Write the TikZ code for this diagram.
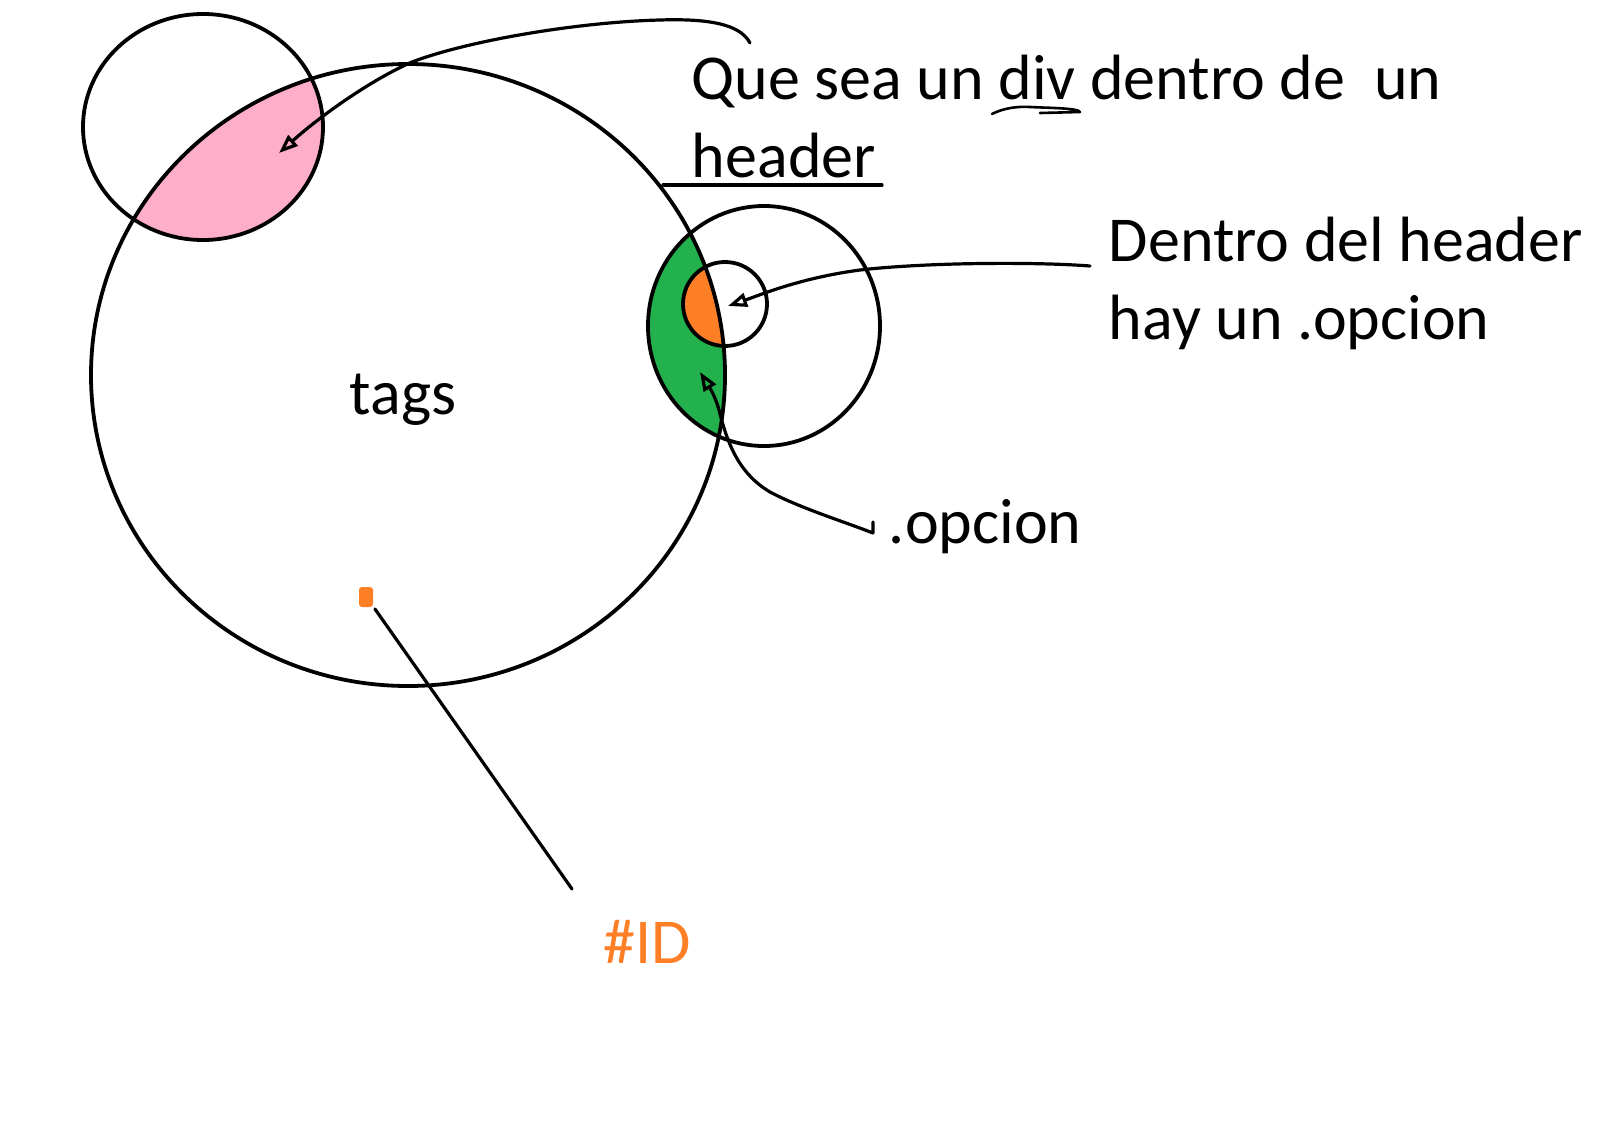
\documentclass[tikz,border=0pt]{standalone}
\usepackage{fontspec}
\setmainfont{Carlito}
\usetikzlibrary{arrows.meta}
\definecolor{rose}{RGB}{255,174,201}
\definecolor{pgreen}{RGB}{34,177,76}
\definecolor{porange}{RGB}{255,127,39}
\begin{document}
\begin{tikzpicture}[x=1pt,y=-1pt,line width=3.8pt,
  lbl/.style={font=\fontsize{64}{78}\selectfont, inner sep=0pt, anchor=base west},
  conn/.style={line width=3.2pt, line cap=round, line join=round},
  tipo/.style={-{Triangle[open,length=19pt,width=14pt,line width=3.2pt]}}]
\useasboundingbox (0,0) rectangle (1624,1136);
\fill[white] (0,0) rectangle (1624,1136);
% fills
\begin{scope}
\clip (408,375) ellipse [x radius=317, y radius=311];
\fill[rose] (203,127) ellipse [x radius=120, y radius=113];
\fill[pgreen] (764,326) ellipse [x radius=116, y radius=120];
\fill[porange] (725,304) circle [radius=42];
\end{scope}
% outlines
\draw (408,375) ellipse [x radius=317, y radius=311];
\draw (203,127) ellipse [x radius=120, y radius=113];
\draw (764,326) ellipse [x radius=116, y radius=120];
\draw (725,304) circle [radius=42];
% texts
\node[lbl] (q1) at (690,99) {Que sea un div dentro de\ \ un};
\node[lbl] (q2) at (690,177) {header};
\node[lbl] (d1) at (1107,261) {Dentro del header};
\node[lbl] (d2) at (1107,339) {hay un .opcion};
\node[lbl] (tags) at (348,414) {tags};
\node[lbl] (op) at (887,543) {.opcion};
\node[lbl, text=porange] (id) at (602,963) {\#ID};
% underlines
\draw[conn] (663,185) -- (882,185);
\draw[conn,line width=2.6pt] (992,114) .. controls (1000,110) and (1012,106) .. (1030,107) .. controls (1050,108) and (1078,108) .. (1080,112) -- (1040,113);
% connectors
\coordinate (c1s) at (750,43);
\coordinate (pinkpt) at (279,153);
\draw[conn,tipo] (c1s) .. controls (742,28) and (720,18) .. (660,20) .. controls (580,22) and (470,40) .. (412,62) .. controls (375,78) and (325,112) .. (pinkpt);
\coordinate (c2s) at (1090,266);
\coordinate (orpt) at (728,306);
\draw[conn,tipo] (c2s) .. controls (1040,262) and (930,262) .. (860,270) .. controls (800,278) and (760,295) .. (orpt);
\coordinate (c3s) at (873,522);
\coordinate (grpt) at (700,372);
\draw[conn,tipo] (c3s) -- (873,533) .. controls (845,522) and (800,508) .. (770,492) .. controls (738,473) and (727,442) .. (719,410) .. controls (715,395) and (708,385) .. (grpt);
% ID marker
\node[fill=porange, minimum width=14pt, minimum height=20pt, rounded corners=3pt, inner sep=0pt] (idmark) at (366,597) {};
\coordinate (idend) at (572,889);
\draw[conn] (idmark.south east) -- (idend);
\end{tikzpicture}
\end{document}
